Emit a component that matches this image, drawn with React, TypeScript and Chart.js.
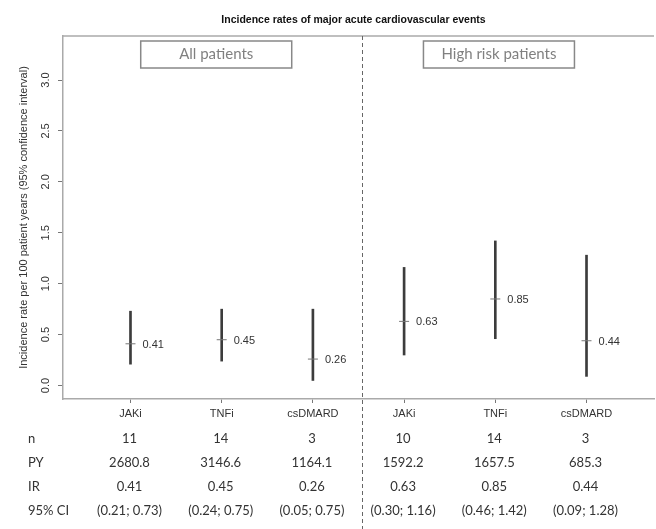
import React, { useEffect, useRef } from "react";
import { Chart, registerables } from "chart.js";

Chart.register(...registerables);

const categories = ["JAKi", "TNFi", "csDMARD", "JAKi", "TNFi", "csDMARD"];
const xPositions = [1, 2, 3, 4, 5, 6];
const irValues = [0.41, 0.45, 0.26, 0.63, 0.85, 0.44];
const ciLow = [0.21, 0.24, 0.05, 0.3, 0.46, 0.09];
const ciHigh = [0.73, 0.75, 0.75, 1.16, 1.42, 1.28];
const nValues = ["11", "14", "3", "10", "14", "3"];
const pyValues = ["2680.8", "3146.6", "1164.1", "1592.2", "1657.5", "685.3"];
const yTickValues = [0, 0.5, 1, 1.5, 2, 2.5, 3];
const panelLabels = ["All patients", "High risk patients"];
const panelCenters = [1.94, 5.04];
const separatorX = 3.54;
const rowLabels = ["n", "PY", "IR", "95% CI"];

const TITLE = "Incidence rates of major acute cardiovascular events";
const Y_TITLE = "Incidence rate per 100 patient years (95% confidence interval)";

const ARIAL = "'Liberation Sans', Arial, sans-serif";
const CALIBRI = "Lato, 'Open Sans', sans-serif";

const overlayPlugin = {
  id: "overlay",
  afterDraw(chart: any) {
    const ctx = chart.ctx as CanvasRenderingContext2D;
    const area = chart.chartArea;
    const xs = chart.scales.x;
    const ys = chart.scales.y;
    ctx.save();

    // title
    ctx.fillStyle = "#111";
    ctx.font = `bold 10.5px ${ARIAL}`;
    ctx.textAlign = "center";
    ctx.textBaseline = "middle";
    ctx.fillText(TITLE, (area.left + area.right) / 2 - 5, 20);

    // top border
    ctx.strokeStyle = "#aaa";
    ctx.lineWidth = 1.5;
    ctx.beginPath();
    ctx.moveTo(area.left, area.top);
    ctx.lineTo(area.right, area.top);
    ctx.stroke();

    // y tick labels (rotated)
    ctx.fillStyle = "#333";
    ctx.font = `11px ${ARIAL}`;
    for (const t of ys.ticks) {
      const py = ys.getPixelForValue(t.value);
      ctx.save();
      ctx.translate(46, py);
      ctx.rotate(-Math.PI / 2);
      ctx.textAlign = "center";
      ctx.textBaseline = "middle";
      ctx.fillText(Number(t.value).toFixed(1), 0, 0);
      ctx.restore();
    }

    // y axis title
    ctx.save();
    ctx.translate(24, (area.top + area.bottom) / 2);
    ctx.rotate(-Math.PI / 2);
    ctx.textAlign = "center";
    ctx.textBaseline = "middle";
    ctx.font = `11px ${ARIAL}`;
    ctx.fillStyle = "#333";
    ctx.fillText(Y_TITLE, 0, 0);
    ctx.restore();

    // separator dashed line
    const sx = Math.round(xs.getPixelForValue(separatorX)) + 0.5;
    ctx.strokeStyle = "#666";
    ctx.lineWidth = 1;
    ctx.setLineDash([4, 3]);
    ctx.beginPath();
    ctx.moveTo(sx, area.top);
    ctx.lineTo(sx, chart.height);
    ctx.stroke();
    ctx.setLineDash([]);

    // panel boxes
    panelLabels.forEach((label, i) => {
      const cx = xs.getPixelForValue(panelCenters[i]);
      const w = 151;
      const h = 27;
      const top = area.top + 5;
      ctx.strokeStyle = "#888";
      ctx.lineWidth = 1.5;
      ctx.strokeRect(cx - w / 2, top, w, h);
      ctx.fillStyle = "#808080";
      ctx.font = `15px ${CALIBRI}`;
      ctx.textAlign = "center";
      ctx.textBaseline = "middle";
      ctx.fillText(label, cx, top + h / 2);
    });

    // value labels
    ctx.fillStyle = "#333";
    ctx.font = `11px ${ARIAL}`;
    ctx.textAlign = "left";
    ctx.textBaseline = "middle";
    irValues.forEach((v, i) => {
      const px = xs.getPixelForValue(xPositions[i]);
      const py = ys.getPixelForValue(v);
      ctx.fillText(v.toFixed(2), px + 12, py + 1);
    });

    // table
    const rows = [
      nValues,
      pyValues,
      irValues.map((v) => v.toFixed(2)),
      ciLow.map((lo, i) => `(${lo.toFixed(2)}; ${ciHigh[i].toFixed(2)})`),
    ];
    const rowY = [439, 463, 487, 511];
    ctx.font = `13px ${CALIBRI}`;
    ctx.fillStyle = "#333";
    rows.forEach((row, r) => {
      ctx.textAlign = "left";
      ctx.fillText(rowLabels[r], 28, rowY[r]);
      ctx.textAlign = "center";
      row.forEach((txt, i) => {
        ctx.fillText(txt, xs.getPixelForValue(xPositions[i]) - 1, rowY[r]);
      });
    });

    ctx.restore();
  },
};

export default function App() {
  const canvasRef = useRef<HTMLCanvasElement | null>(null);

  useEffect(() => {
    if (!canvasRef.current) return;
    const chart = new Chart(canvasRef.current, {
      type: "scatter",
      data: {
        datasets: [
          {
            type: "bar",
            label: "95% CI",
            data: xPositions.map((x, i) => ({ x, y: [ciLow[i], ciHigh[i]] })) as any,
            backgroundColor: "#3c3c3c",
            borderWidth: 0,
            barThickness: 2,
            grouped: false,
            order: 2,
          } as any,
          {
            type: "scatter",
            label: "IR",
            data: xPositions.map((x, i) => ({ x, y: irValues[i] })),
            pointStyle: "line",
            pointRadius: 5,
            pointHoverRadius: 5,
            borderColor: "#777",
            backgroundColor: "#777",
            borderWidth: 1,
            order: 1,
          } as any,
        ],
      },
      options: {
        responsive: false,
        animation: false,
        devicePixelRatio: 1,
        events: [],
        layout: { padding: { left: 0, top: 36, right: 2, bottom: 0 } },
        plugins: {
          legend: { display: false },
          tooltip: { enabled: false },
          title: { display: false },
        },
        scales: {
          x: {
            type: "linear",
            min: 0.26,
            max: 6.74,
            offset: false,
            afterBuildTicks: (s: any) => {
              s.ticks = xPositions.map((v) => ({ value: v }));
            },
            afterFit: (s: any) => {
              s.height = 130;
            },
            ticks: {
              autoSkip: false,
              maxRotation: 0,
              minRotation: 0,
              padding: 4,
              color: "#333",
              font: { family: ARIAL, size: 11 },
              callback: (v: any) => {
                const idx = xPositions.indexOf(Number(v));
                return idx >= 0 ? categories[idx] : "";
              },
            },
            grid: {
              display: true,
              offset: false,
              drawOnChartArea: false,
              drawTicks: true,
              tickLength: 4,
              color: "#777",
            },
            border: { display: true, color: "#aaa", width: 1.5 },
          },
          y: {
            type: "linear",
            min: -0.132,
            max: 3.432,
            afterBuildTicks: (s: any) => {
              s.ticks = yTickValues.map((v) => ({ value: v }));
            },
            afterFit: (s: any) => {
              s.width = 63;
            },
            ticks: { display: false },
            grid: {
              display: true,
              offset: false,
              drawOnChartArea: false,
              drawTicks: true,
              tickLength: 5,
              color: "#777",
            },
            border: { display: true, color: "#aaa", width: 1.5 },
          },
        },
      },
      plugins: [overlayPlugin],
    } as any);
    return () => chart.destroy();
  }, []);

  return (
    <div
      style={{
        position: "fixed",
        left: 0,
        top: 0,
        width: 656,
        height: 529,
        overflow: "hidden",
        background: "#fff",
      }}
    >
      <canvas ref={canvasRef} width={660} height={529} />
    </div>
  );
}
